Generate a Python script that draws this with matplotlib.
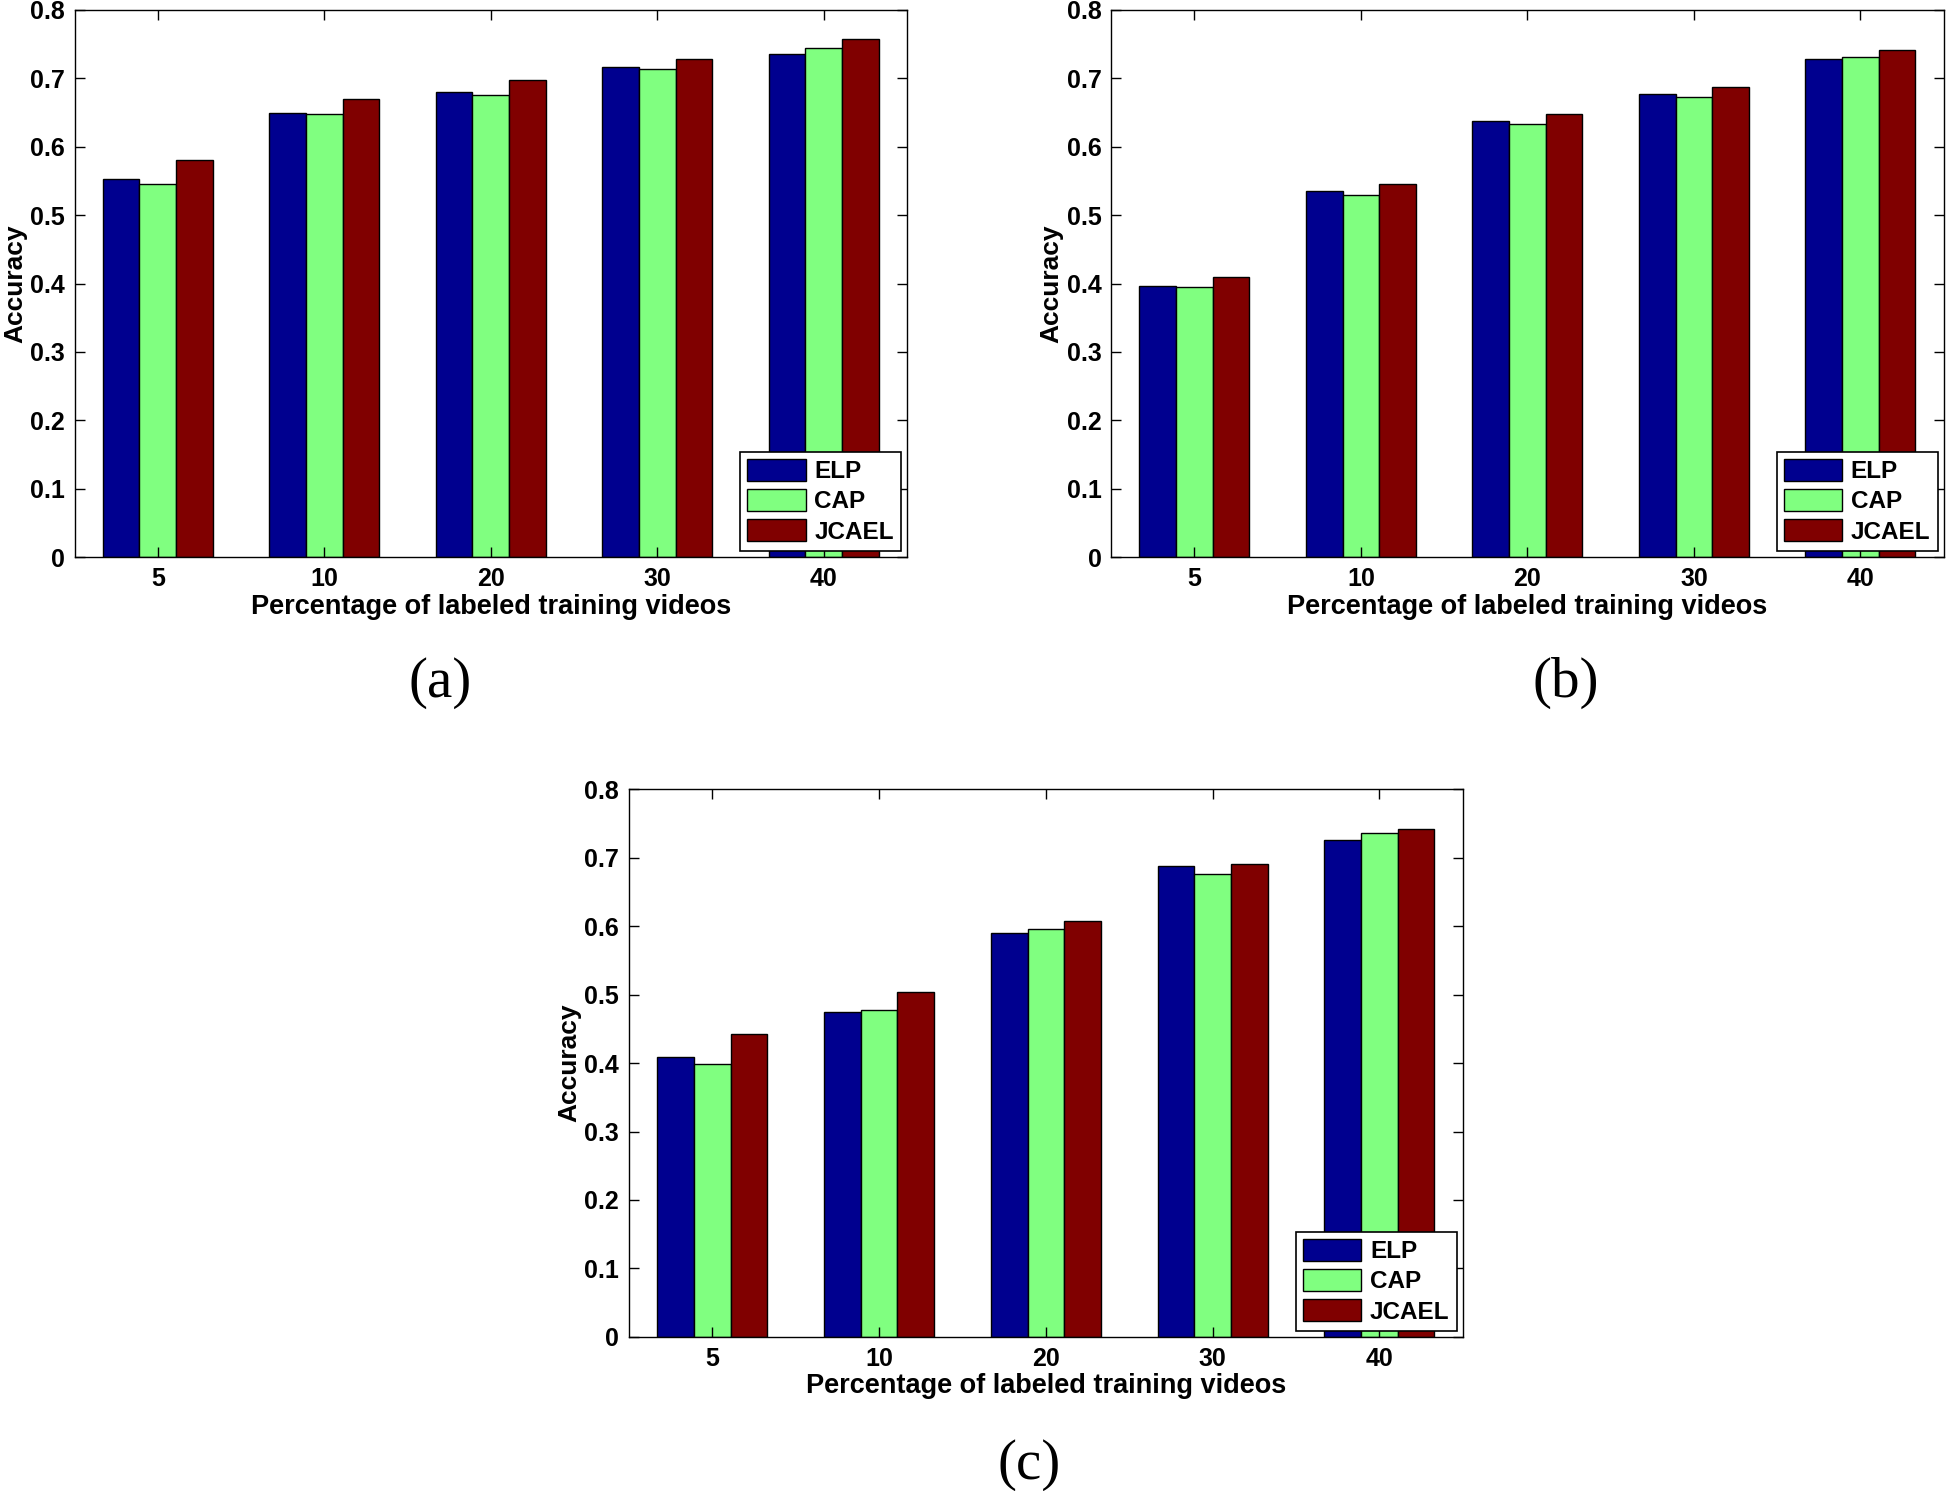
import numpy as np
import matplotlib
matplotlib.use("Agg")
import matplotlib.pyplot as plt

# 資料
categories = ["5", "10", "20", "30", "40"]
methods = ["ELP", "CAP", "JCAEL"]
colors = ["#00008F", "#80FF80", "#800000"]

acc_a_elp = [0.553, 0.650, 0.680, 0.717, 0.736]
acc_a_cap = [0.546, 0.648, 0.676, 0.713, 0.745]
acc_a_jcael = [0.581, 0.670, 0.698, 0.728, 0.757]

acc_b_elp = [0.397, 0.535, 0.637, 0.677, 0.728]
acc_b_cap = [0.395, 0.530, 0.634, 0.673, 0.731]
acc_b_jcael = [0.409, 0.546, 0.648, 0.687, 0.742]

acc_c_elp = [0.409, 0.474, 0.590, 0.687, 0.726]
acc_c_cap = [0.399, 0.478, 0.596, 0.676, 0.736]
acc_c_jcael = [0.443, 0.503, 0.608, 0.691, 0.742]

plt.rcParams["font.family"] = ["Liberation Sans", "DejaVu Sans"]
plt.rcParams["font.weight"] = "bold"


def draw_panel(ax, series):
    x = np.arange(1, len(categories) + 1)
    w = 0.22
    for i, (vals, name, c) in enumerate(zip(series, methods, colors)):
        ax.bar(x + (i - 1) * w, vals, width=w, color=c, edgecolor="black",
               linewidth=1.0, label=name)
    ax.set_xlim(0.5, 5.5)
    ax.set_ylim(0, 0.8)
    ax.set_xticks(x)
    ax.set_xticklabels(categories)
    ax.set_yticks(np.arange(0, 0.81, 0.1))
    ax.set_yticklabels(["0"] + [f"{v:.1f}" for v in np.arange(0.1, 0.81, 0.1)])
    ax.tick_params(direction="in", top=True, right=True, length=7, width=1,
                   labelsize=18, pad=7)
    for lab in ax.get_xticklabels() + ax.get_yticklabels():
        lab.set_fontweight("bold")
    for s in ax.spines.values():
        s.set_linewidth(1.0)
    ax.set_xlabel("Percentage of labeled training videos", fontsize=19.5,
                  fontweight="bold", labelpad=2)
    ax.set_ylabel("Accuracy", fontsize=19, fontweight="bold", labelpad=2)
    leg = ax.legend(loc="lower right", fontsize=17.5, fancybox=False,
                    edgecolor="black", framealpha=1, handlelength=2.4,
                    handleheight=1.0, borderpad=0.3, labelspacing=0.25,
                    handletextpad=0.35, borderaxespad=0.25)
    leg.get_frame().set_linewidth(1.2)
    for t in leg.get_texts():
        t.set_fontweight("bold")


fig = plt.figure(figsize=(19.46, 14.91), dpi=100)
ax_a = fig.add_axes([0.0383, 0.6264, 0.4278, 0.3669])
ax_b = fig.add_axes([0.5710, 0.6264, 0.4278, 0.3669])
ax_c = fig.add_axes([0.3232, 0.1033, 0.4285, 0.3675])

draw_panel(ax_a, [acc_a_elp, acc_a_cap, acc_a_jcael])
draw_panel(ax_b, [acc_b_elp, acc_b_cap, acc_b_jcael])
draw_panel(ax_c, [acc_c_elp, acc_c_cap, acc_c_jcael])

cap_font = dict(fontsize=41, family=["Liberation Serif", "DejaVu Serif"],
                fontweight="normal", ha="center", va="center")
fig.text(440 / 1946, 1 - 683 / 1491, "(a)", **cap_font)
fig.text(1566 / 1946, 1 - 683 / 1491, "(b)", **cap_font)
fig.text(1029 / 1946, 1 - 1465 / 1491, "(c)", **cap_font)

fig.savefig("out.png", dpi=100)
